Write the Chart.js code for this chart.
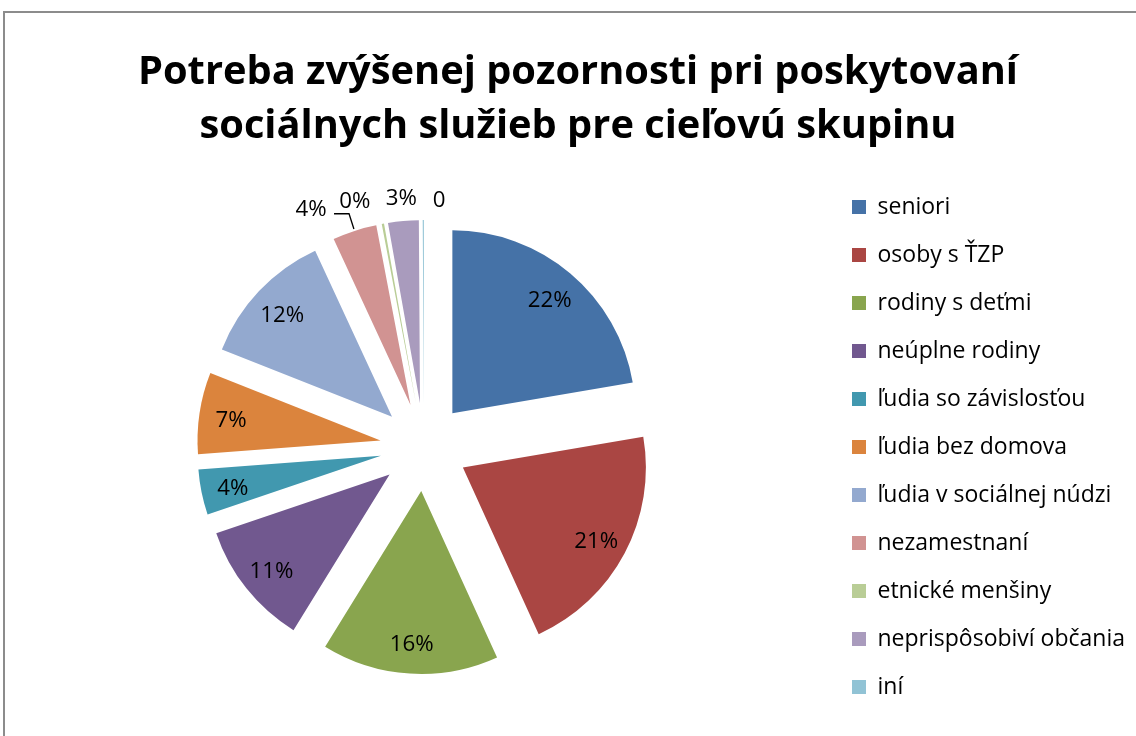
<!DOCTYPE html>
<html>
<head>
<meta charset="utf-8">
<title>Potreba zvýšenej pozornosti</title>
<script src="https://cdn.jsdelivr.net/npm/chart.js@4.4.1/dist/chart.umd.min.js"></script>
<style>
  html, body { margin: 0; padding: 0; background: #fff; overflow: hidden; }
  #wrap { position: relative; width: 1136px; height: 736px; overflow: hidden; }
  #frame { position: absolute; left: 3px; top: 11px; width: 1200px; height: 800px;
           border: 2px solid #8c8c8c; box-sizing: border-box; }
  canvas { position: absolute; left: 0; top: 0; }
</style>
</head>
<body>
<div id="wrap">
  <div id="frame"></div>
  <canvas id="chart" width="1136" height="736"></canvas>
</div>
<script>
// data (share of answers, %)
const titleLines = ['Potreba zvýšenej pozornosti pri poskytovaní', 'sociálnych služieb pre cieľovú skupinu'];
const categories = [
  'seniori', 'osoby s ŤZP', 'rodiny s deťmi', 'neúplne rodiny', 'ľudia so závislosťou',
  'ľudia bez domova', 'ľudia v sociálnej núdzi', 'nezamestnaní', 'etnické menšiny',
  'neprispôsobiví občania', 'iní'
];
const shares = [22.3, 20.9, 15.6, 11.0, 4.0, 7.2, 12.1, 3.9, 0.2, 2.7, 0.1];
const valueLabels = ['22%', '21%', '16%', '11%', '4%', '7%', '12%', '4%', '0%', '3%', '0'];
const colors = [
  '#4572A7', '#AA4643', '#89A54E', '#71588F', '#4198AF', '#DB843D',
  '#93A9CF', '#D19392', '#B9CD96', '#A99BBD', '#91C3D5'
];

const FONT = '"Open Sans", "Noto Sans", sans-serif';
const PIE_X = 424;        // wanted centre of the pie
const PIE_RADIUS = 183;
const EXPLODE = 44;       // every slice is pulled out by this much
const LABEL_DIST = 151;   // label distance from the slice tip

// small slices get their label outside, above the pie
const outside = {
  7: { dx: 0, leader: true },
  8: { dx: -24, dy: 0 },
  9: { dx: 0, dy: 0 },
  10: { dx: 16, dy: 3 }
};

// size fonts so the texts take the same width as in the reference
const measure = document.createElement('canvas').getContext('2d');
function widthAt(text, size, weight) {
  measure.font = (weight || 'normal') + ' ' + size + 'px ' + FONT;
  return measure.measureText(text).width;
}
const titleSize = Math.round(40 * 880 / widthAt(titleLines[0], 40, 'bold') * 10) / 10;
const legendFont = Math.round(21 * 247 / widthAt('neprispôsobiví občania', 21) * 10) / 10;
const labelFont = Math.round(21 * 44 / widthAt('22%', 21) * 10) / 10;

// legend geometry, so the pie lands where it should
const legendPad = 48 - legendFont, legendBox = 14;
const longest = Math.max(...categories.map(t => widthAt(t, legendFont)));
const legendWidth = legendPad + legendBox + legendFont / 2 + longest + 10;
const legendLeft = 852 - legendPad;
const padLeft = 2 * PIE_X - legendLeft;
const padRight = 1136 - legendLeft - legendWidth;

// draw each arc shifted out along its bisector
const explodePlugin = {
  id: 'explode',
  beforeDatasetDraw(chart, args) {
    const ctx = chart.ctx;
    args.meta.data.forEach(arc => {
      const mid = (arc.startAngle + arc.endAngle) / 2;
      ctx.save();
      ctx.translate(Math.cos(mid) * EXPLODE, Math.sin(mid) * EXPLODE);
      arc.draw(ctx);
      ctx.restore();
    });
    return false;
  }
};

const labelPlugin = {
  id: 'sliceLabels',
  afterDatasetsDraw(chart) {
    const ctx = chart.ctx;
    const arcs = chart.getDatasetMeta(0).data;
    ctx.save();
    ctx.font = labelFont + 'px ' + FONT;
    ctx.fillStyle = '#000';
    ctx.strokeStyle = '#000';
    ctx.lineWidth = 1.3;
    ctx.textAlign = 'center';
    ctx.textBaseline = 'middle';
    arcs.forEach((arc, i) => {
      const mid = (arc.startAngle + arc.endAngle) / 2;
      const ux = Math.cos(mid), uy = Math.sin(mid);
      const o = outside[i];
      if (!o) {
        const d = EXPLODE + LABEL_DIST;
        ctx.fillText(valueLabels[i], arc.x + ux * d, arc.y + uy * d + 3);
        return;
      }
      if (o.leader) {
        const r0 = EXPLODE + PIE_RADIUS + 2;
        const r1 = EXPLODE + PIE_RADIUS + 18;
        const x1 = arc.x + ux * r1, y1 = arc.y + uy * r1;
        ctx.beginPath();
        ctx.moveTo(arc.x + ux * r0, arc.y + uy * r0);
        ctx.lineTo(x1, y1);
        ctx.lineTo(x1 - 15, y1);
        ctx.stroke();
        ctx.fillText(valueLabels[i], x1 - 38, y1 - 4);
        return;
      }
      const d = EXPLODE + PIE_RADIUS + 22;
      ctx.fillText(valueLabels[i], arc.x + ux * d + o.dx, arc.y + uy * d + o.dy);
    });
    ctx.restore();
  }
};

new Chart(document.getElementById('chart'), {
  type: 'pie',
  data: {
    labels: categories,
    datasets: [{
      data: shares,
      backgroundColor: colors,
      borderWidth: 0,
      radius: PIE_RADIUS
    }]
  },
  options: {
    responsive: false,
    animation: false,
    layout: { padding: { left: padLeft, right: padRight, top: 0, bottom: 0 } },
    plugins: {
      title: {
        display: true,
        text: titleLines,
        color: '#000',
        font: { family: FONT, size: titleSize, weight: 'bold', lineHeight: 54 / titleSize },
        padding: { top: 46, bottom: 4 }
      },
      legend: {
        position: 'right',
        fullSize: false,
        labels: {
          color: '#000',
          font: { family: FONT, size: legendFont },
          boxWidth: legendBox,
          boxHeight: legendBox,
          padding: legendPad
        }
      },
      tooltip: { enabled: false }
    }
  },
  plugins: [explodePlugin, labelPlugin]
});
</script>
</body>
</html>
